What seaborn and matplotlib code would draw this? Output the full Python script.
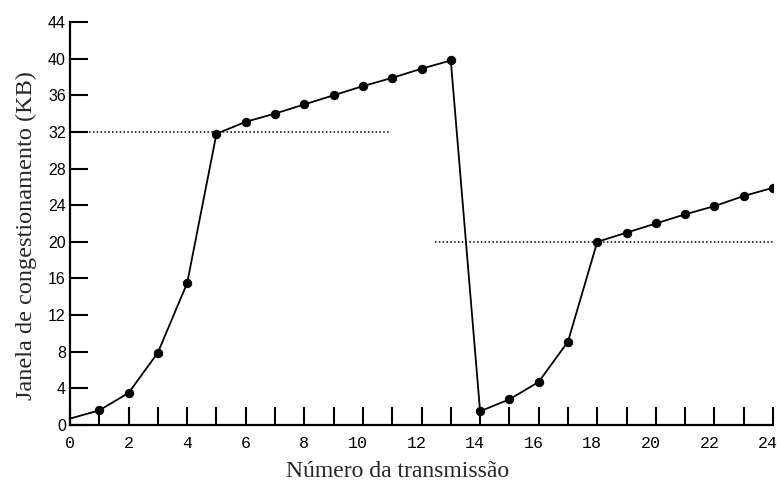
import matplotlib
matplotlib.use("Agg")
import matplotlib.pyplot as plt
import matplotlib.transforms as mtransforms
import seaborn as sns
import pandas as pd

# Data
transmissao = [0, 1, 2, 3, 4, 5, 6, 7, 8, 9, 10, 11, 12, 13,
               14, 15, 16, 17, 18, 19, 20, 21, 22, 23, 24]
janela = [0.7, 1.6, 3.5, 7.9, 15.5, 31.8, 33.1, 34.0, 35.0, 36.0, 37.0, 37.9, 38.9, 39.8,
          1.5, 2.8, 4.7, 9.1, 20.0, 21.0, 22.0, 23.0, 23.9, 25.0, 25.9]
limiar_y = [32, 20]
limiar_x_ini = [0, 12.45]
limiar_x_fim = [10.95, 24]
x_ticks = list(range(0, 25))
x_tick_labels = [str(v) if v % 2 == 0 else "" for v in x_ticks]
y_ticks = list(range(0, 45, 4))

sns.set_style("white")
plt.rcParams['font.family'] = ['Liberation Sans', 'DejaVu Sans']

df = pd.DataFrame({"x": transmissao, "y": janela})

fig = plt.figure(figsize=(7.77, 4.86), dpi=100)
ax = fig.add_axes([70 / 777, 1 - 425 / 486, 703 / 777, 403 / 486])

sns.lineplot(data=df, x="x", y="y", ax=ax, color="black", linewidth=1.3,
             marker="o", markersize=6, markeredgecolor="black", markerfacecolor="black")
line = ax.lines[0]
line.set_markevery(list(range(1, len(transmissao))))

for yv, x0, x1 in zip(limiar_y, limiar_x_ini, limiar_x_fim):
    ax.plot([x0, x1], [yv, yv], linestyle=(0, (1, 1.5)), color="black", linewidth=1.1)

ax.set_xlim(0, 24)
ax.set_ylim(0, 44)
ax.set_xticks(x_ticks)
ax.set_xticklabels(x_tick_labels, family=['Liberation Mono', 'DejaVu Sans Mono'], fontsize=12)
ax.set_yticks(y_ticks)
ax.set_yticklabels([str(v) for v in y_ticks], fontsize=11.5)

ax.tick_params(axis="x", which="both", bottom=True, top=False, direction="in",
               length=13, width=1.5, pad=8, colors="black")
ax.tick_params(axis="y", which="both", left=True, right=False, direction="in",
               length=13, width=1.5, pad=3, colors="black")

# two-digit labels sit slightly left of their tick in the reference
for lab in ax.get_xticklabels():
    if len(lab.get_text()) == 2:
        lab.set_transform(lab.get_transform() +
                          mtransforms.ScaledTranslation(-5 / 100, 0, fig.dpi_scale_trans))

for s in ["top", "right"]:
    ax.spines[s].set_visible(False)
for s in ["left", "bottom"]:
    ax.spines[s].set_linewidth(1.6)
    ax.spines[s].set_color("black")

ax.set_xlabel("Número da transmissão", family=['Liberation Serif', 'DejaVu Serif'], fontsize=17)
ax.set_ylabel("Janela de congestionamento (KB)", family=['Liberation Serif', 'DejaVu Serif'], fontsize=17.5)
ax.xaxis.set_label_coords((398 - 70) / 703, (425 - 461) / 403)
ax.yaxis.set_label_coords((37 - 70) / 703, (425 - 236) / 403)

fig.savefig("out.png", dpi=100)
